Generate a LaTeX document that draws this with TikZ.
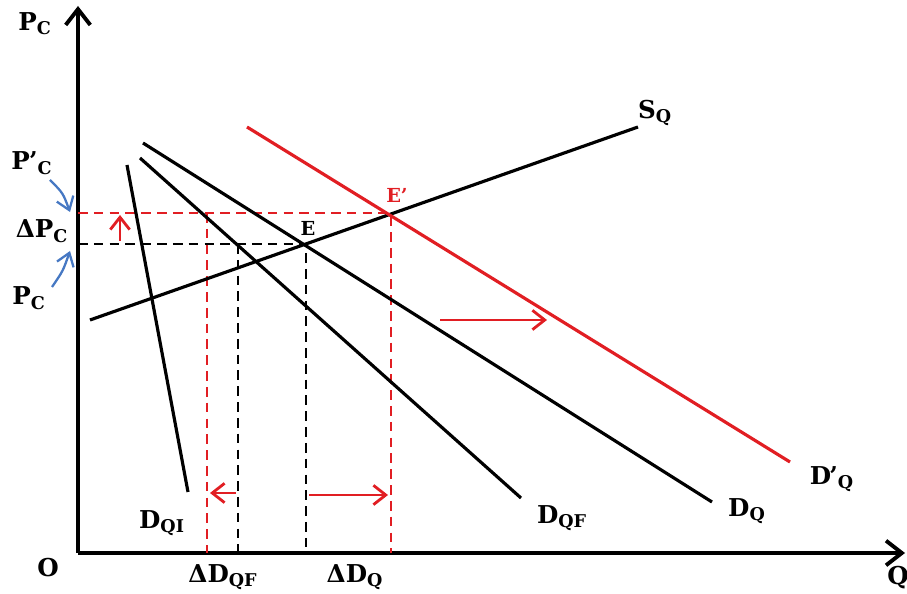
\documentclass[tikz,border=0pt]{standalone}
\usepackage{fontspec}
\setmainfont{DejaVu Serif}
\usetikzlibrary{arrows.meta}
\definecolor{shiftred}{RGB}{225,30,35}
\definecolor{noteblue}{RGB}{70,120,195}
\tikzset{
  curve/.style={line width=1.8pt},
  guide/.style={line width=1.7pt,dash pattern=on 5.5pt off 3.5pt},
  lbl/.style={font=\fontsize{14}{17}\selectfont\bfseries,inner sep=1pt},
  move/.style={shiftred,line width=1.6pt,-{Straight Barb[length=7pt,width=11pt]}},
  note/.style={noteblue,line width=1.3pt,-{Straight Barb[length=7pt,width=10pt]}}
}
\newcommand{\sbs}[1]{\textsubscript{\fontsize{10}{12}\selectfont #1}}
\begin{document}
\begin{tikzpicture}[x=0.02cm,y=-0.02cm]
        \useasboundingbox (0,0) rectangle (907,594);
        \coordinate (o) at (78,553);
        \coordinate (ytop) at (78,6);
        \coordinate (xend) at (905,553);
        \coordinate (s1) at (90,320);
        \coordinate (s2) at (638,127);
        \coordinate (dn1) at (247,127);
        \coordinate (dn2) at (790,462);
        \coordinate (d1) at (143,143);
        \coordinate (d2) at (712,502);
        \coordinate (f1) at (140,158);
        \coordinate (f2) at (521,498);
        \coordinate (i1) at (127,165);
        \coordinate (i2) at (188,492);
        \coordinate (e) at (306,244);
        \coordinate (en) at (391,213);
        \coordinate (pn) at (78,213);
        \coordinate (p) at (78,244);
        \coordinate (qn) at (391,553);
        \coordinate (q) at (306,553);
        \coordinate (fn) at (207,213);
        \coordinate (fnb) at (207,553);
        \coordinate (fo) at (238,244);
        \coordinate (fob) at (238,553);
        % axes
        \draw[line width=2.2pt,-{Straight Barb[length=9pt,width=14pt]}] (o) -- (ytop);
        \draw[line width=2.2pt,-{Straight Barb[length=9pt,width=14pt]}] (o) -- (xend);
        % guides
        \draw[guide,shiftred] (pn) -- (en) -- (qn);
        \draw[guide,shiftred] (fn) -- (fnb);
        \draw[guide] (p) -- (e) -- (q);
        \draw[guide] (fo) -- (fob);
        % curves
        \draw[curve] (s1) -- (s2);
        \draw[curve] (d1) -- (d2);
        \draw[curve] (f1) -- (f2);
        \draw[curve] (i1) -- (i2);
        \draw[curve,shiftred] (dn1) -- (dn2);
        % shifts
        \coordinate (a1) at (120,241);
        \coordinate (a2) at (120,215);
        \coordinate (b1) at (440,320);
        \coordinate (b2) at (547,320);
        \coordinate (c1) at (236,493);
        \coordinate (c2) at (210,493);
        \coordinate (g1) at (309,495);
        \coordinate (g2) at (388,495);
        \draw[move] (a1) -- (a2);
        \draw[move] (b1) -- (b2);
        \draw[move] (c1) -- (c2);
        \draw[move] (g1) -- (g2);
        % labels
        \node[lbl] (lpc) at (35,24) {P\sbs{C}};
        \node[lbl] (lo) at (48,568) {O};
        \node[lbl] (lq) at (898,578) {Q};
        \node[lbl] (lsq) at (655,113) {S\sbs{Q}};
        \node[lbl] (ldn) at (832,479) {D\kern-1pt'\sbs{Q}};
        \node[lbl] (ld) at (747,511) {D\sbs{Q}};
        \node[lbl] (lf) at (562,518) {D\sbs{QF}};
        \node[lbl] (li) at (162,523) {D\sbs{QI}};
        \node[lbl,font=\fontsize{11}{13}\selectfont\bfseries] (le) at (308,228) {E};
        \node[lbl,font=\fontsize{11}{13}\selectfont\bfseries,text=shiftred] (len) at (397,195) {E'};
        \node[lbl] (lpn) at (32,163) {P\kern-0.5pt'\sbs{C}};
        \node[lbl] (ldp) at (42,231) {ΔP\sbs{C}};
        \node[lbl] (lp) at (29,298) {P\sbs{C}};
        \node[lbl] (ldf) at (223,577) {ΔD\sbs{QF}};
        \node[lbl] (ldq) at (355,577) {ΔD\sbs{Q}};
        % notes
        \coordinate (u1) at (50,180);
        \coordinate (u2) at (70,212);
        \coordinate (w1) at (52,287);
        \coordinate (w2) at (70,251);
        \draw[note] (u1) .. controls (63,193) .. (u2);
        \draw[note] (w1) .. controls (63,271) .. (w2);
    \end{tikzpicture}
\end{document}
